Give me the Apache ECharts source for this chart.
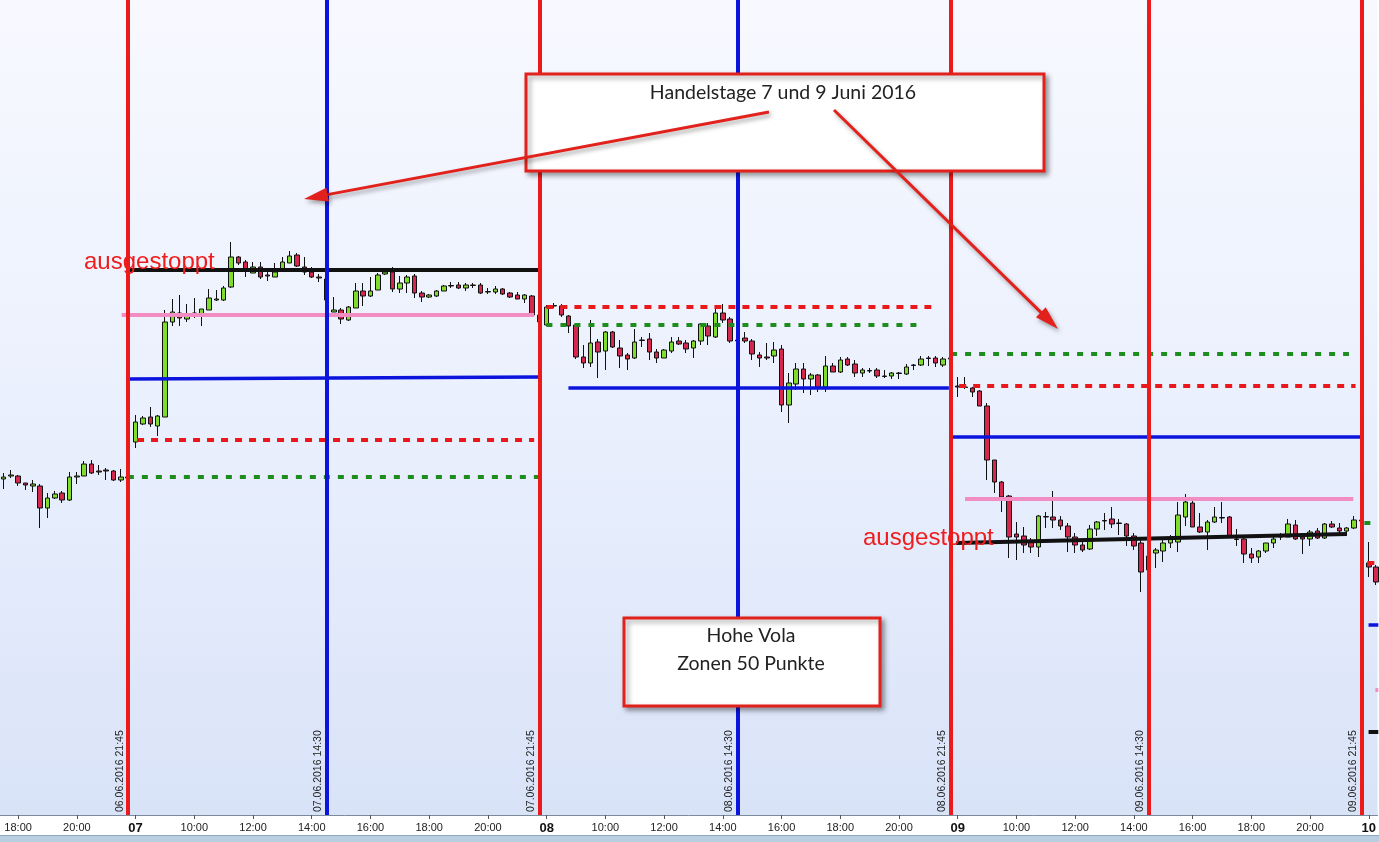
<!DOCTYPE html>
<html><head><meta charset="utf-8">
<script src="https://cdn.jsdelivr.net/npm/echarts@6/dist/echarts.min.js"></script>
<style>html,body{margin:0;padding:0;background:#fff;}#c{width:1379px;height:842px;}</style>
</head><body><div id="c"></div>
<script>
// 15-minute slots: slot 0 = 06.06 08:00, 56 slots per trading day (08:00-22:00)
const dayStartSlots = [38, 56, 112, 168, 224];
// [open, close, low, high]
const day06 = [
[10221,10223,10211,10227],[10224,10225,10222,10230],[10224,10217,10214,10225],[10217,10215,10210,10217],
[10214,10216,10208,10220],[10214,10192,10172,10216],[10192,10202,10182,10207],[10202,10206,10201,10209],
[10207,10200,10197,10209],[10200,10223,10199,10228],[10223,10224,10216,10228],[10224,10236,10224,10239],
[10236,10227,10226,10240],[10229,10228,10225,10235],[10230,10229,10220,10232],[10229,10220,10219,10230],
[10220,10223,10218,10231],[10223,10222,10220,10226]];
const day07 = [
[10258,10278,10252,10285],[10276,10282,10275,10284],[10283,10276,10273,10293],[10274,10284,10264,10285],
[10283,10378,10283,10390],[10378,10388,10374,10401],[10387,10382,10374,10405],[10381,10386,10378,10396],
[10385,10387,10382,10402],[10385,10391,10374,10391],[10390,10402,10390,10411],[10400,10401,10399,10410],
[10400,10412,10399,10414],[10413,10443,10412,10458],[10443,10437,10435,10444],[10438,10431,10423,10440],
[10427,10433,10427,10438],[10433,10423,10421,10438],[10425,10424,10419,10429],[10423,10428,10423,10437],
[10430,10438,10430,10443],[10437,10444,10437,10449],[10445,10434,10433,10447],[10433,10428,10425,10443],
[10428,10423,10422,10433],[10423,10422,10418,10426],[10421,10400,10397,10423],[10388,10390,10388,10403],
[10390,10381,10376,10392],[10380,10393,10379,10394],[10392,10409,10392,10417],[10409,10404,10394,10417],
[10404,10409,10403,10423],[10410,10425,10410,10427],[10426,10428,10425,10431],[10428,10411,10408,10433],
[10411,10417,10407,10424],[10417,10423,10407,10425],[10424,10407,10402,10426],[10407,10403,10398,10409],
[10403,10405,10402,10406],[10404,10409,10403,10410],[10409,10414,10409,10415],[10414,10414.5,10412,10418],
[10415,10412,10411,10418],[10412,10415,10409,10417],[10415,10414.5,10412,10417],[10415,10407,10406,10417],
[10408,10408.5,10406,10412],[10408,10411,10406,10414],[10411,10406,10405,10412],[10407,10403,10402,10408],
[10405,10401,10401,10408],[10401,10405,10397,10406],[10404,10385,10384,10405],[10385,10378,10374,10387]];
const day08 = [
[10375,10393,10374,10395],[10394,10394.5,10392,10397],[10394,10385,10383,10396],[10384,10374,10367,10385],
[10375,10343,10341,10377],[10343,10337,10332,10355],[10337,10357,10333,10380],[10358,10348,10322,10361],
[10349,10368,10330,10369],[10368,10353,10352,10369],[10352,10344,10332,10360],[10345,10341,10330,10347],
[10342,10358,10341,10371],[10360,10359.5,10353,10363],[10361,10348,10340,10367],[10348,10342,10337,10351],
[10342,10350,10342,10351],[10349,10358,10347,10363],[10359,10356,10355,10363],[10357,10351,10347,10360],
[10352,10359,10342,10360],[10359,10376,10355,10377],[10374,10364,10355,10377],[10363,10387,10362,10393],
[10387,10380,10377,10396],[10381,10359,10357,10383],[10359,10360,10358,10362],[10362,10359,10357,10368],
[10359,10346,10340,10361],[10345,10342,10333,10348],[10343,10342,10340,10357],[10344,10350,10337,10358],
[10351,10295,10288,10355],[10295,10317,10277,10327],[10316,10331,10310,10337],[10331,10321,10307,10337],
[10321,10325,10305,10327],[10325,10313,10308,10326],[10313,10334,10308,10344],[10334,10328,10328,10337],
[10328,10340,10327,10343],[10341,10335,10334,10343],[10336,10327,10323,10340],[10327,10330,10323,10332],
[10329,10329.5,10327,10332],[10330,10324,10322,10332],[10324,10323.5,10322,10330],[10324,10327,10321,10328],
[10326.5,10327,10321,10328],[10326,10333,10325,10336],[10335,10334.5,10330,10336],[10335,10341,10334,10344],
[10342,10341.5,10334,10344],[10342,10337,10333,10344],[10335,10341,10333,10343],[10341,10342,10339,10347]];
const day09 = [
[10314,10313,10303,10323],[10313,10312.5,10311,10323],[10312,10308,10303,10313],[10309,10294,10294,10310],
[10294,10240,10220,10297],[10240,10218,10207,10240],[10218,10203,10188,10219],[10204,10163,10142,10205],
[10166,10163,10140,10178],[10164,10155,10147,10173],[10158,10153,10147,10162],[10153,10184,10143,10185],
[10183,10183.5,10172,10188],[10183,10180,10172,10209],[10180,10174,10170,10184],[10174,10163,10148,10177],
[10163,10155,10147,10167],[10155,10150,10148,10158],[10151,10171,10150,10175],[10171,10178,10164,10179],
[10179,10179.5,10170,10187],[10181,10176,10172,10193],[10177,10176.5,10165,10181],[10176,10164,10154,10177],
[10164,10154,10150,10167],[10157,10128,10108,10161],[10130,10144,10127,10147],[10147,10150,10132,10152],
[10149,10157,10138,10160],[10157,10161,10152,10165],[10158,10185,10148,10198],[10183,10198,10174,10206],
[10197,10173,10173,10199],[10173,10168,10167,10187],[10168,10178,10150,10180],[10178,10183,10177,10193],
[10182,10182.5,10177,10198],[10183,10163,10162,10184],[10161,10160.5,10154,10171],[10161,10146,10137,10162],
[10146,10142,10137,10152],[10143,10149,10137,10150],[10149,10157,10147,10157],[10157,10161,10152,10165],
[10163,10163.5,10160,10167],[10163,10176,10163,10181],[10175,10161,10160,10180],[10163,10161,10146,10167],
[10161,10168,10154,10170],[10169,10162,10161,10172],[10162,10176,10161,10177],[10176,10173,10172,10179],
[10172,10169,10167,10177],[10169,10172,10164,10173],[10172,10180,10171,10184],[10180,10179,10177,10182]];
const day10 = [[10137,10133,10123,10158],[10133,10118,10115,10135]];

// level lines: [fromSlot, fromPrice, toSlot, toPrice]
const blackLevels = [[55.2,10430,111.0,10430],[167.8,10157,221.0,10166],[223.97,9968,225.3,9968]];
const pinkLevels  = [[54.1,10385,110.3,10385],[169.0,10201,221.9,10201],[224.9,10010,225.3,10010]];
const blueLevels  = [[54.95,10321,111.0,10323],[114.97,10312,166.8,10312],[166.96,10263,222.9,10263],[223.97,10075,225.3,10075]];
const redLevels   = [[56.2,10260,110.3,10260],[111.97,10393,164.4,10393],[168.2,10314,222.2,10314],[223.8,10137,224.9,10137]];
const greenLevels = [[54.95,10223,111.0,10223],[111.97,10375,162.5,10375],[167.1,10346,221.3,10346],[223.4,10177,225.3,10177]];

// vertical markers
const vSlots  = [55, 82, 111, 138, 167, 194, 223];
const vLabels = ['06.06.2016 21:45','07.06.2016 14:30','07.06.2016 21:45','08.06.2016 14:30','08.06.2016 21:45','09.06.2016 14:30','09.06.2016 21:45'];
const vKinds  = ['close','mid','close','mid','close','close','close'];

// axis ticks
const tickSlots  = [40,48,56,64,72,80,88,96,104,112,120,128,136,144,152,160,168,176,184,192,200,208,216,224];
const tickLabels = ['18:00','20:00','07','10:00','12:00','14:00','16:00','18:00','20:00','08','10:00','12:00','14:00','16:00','18:00','20:00','09','10:00','12:00','14:00','16:00','18:00','20:00','10'];

const days = [day06, day07, day08, day09, day10];
const candles = [];
days.forEach((d, k) => d.forEach((c, i) => candles.push([dayStartSlots[k] + i, c[0], c[1], c[2], c[3]])));

const RED = '#ec1a1a', BLUE = '#0a14dc', BLACK = '#111111', PINK = '#f28dc3', GREEN = '#1f8c1f';
const series = [{
  type: 'candlestick', data: candles, encode: {x: 0, y: [1, 2, 3, 4]},
  barWidth: 5, z: 2, silent: true,
  itemStyle: {color: '#80dc2c', color0: '#d6284f', borderColor: '#111', borderColor0: '#111', borderWidth: 1}
}];
function addLevels(list, color, width, type) {
  list.forEach(l => series.push({
    type: 'line', data: [[l[0], l[1]], [l[2], l[3]]], showSymbol: false, symbol: 'none', silent: true, z: 3,
    lineStyle: {color: color, width: width, type: type, cap: 'butt'}
  }));
}
addLevels(blackLevels, BLACK, 4, 'solid');
addLevels(pinkLevels, PINK, 4, 'solid');
addLevels(blueLevels, BLUE, 3.5, 'solid');
addLevels(redLevels, '#e8181c', 4, [7, 7]);
addLevels(greenLevels, GREEN, 4, [6, 8]);
series.push({
  type: 'line', data: [], z: 4, silent: true,
  markLine: {
    silent: true, symbol: ['none', 'none'], animation: false,
    data: vSlots.map((s, i) => ({
      xAxis: s,
      lineStyle: {color: vKinds[i] === 'mid' ? BLUE : RED, width: 4, type: 'solid'},
      label: {show: true, formatter: vLabels[i], position: 'insideStartTop', distance: 3,
        color: '#222', fontSize: 10.5, fontFamily: 'Liberation Sans'}
    }))
  }
});

const FONT_BOX = 'Lato, "Open Sans", sans-serif';
function arrow(x1, y1, x2, y2) {
  const dx = x2 - x1, dy = y2 - y1, L = Math.hypot(dx, dy), ux = dx / L, uy = dy / L;
  const hl = 24, hw = 7;
  const bx = x2 - ux * hl, by = y2 - uy * hl;
  const sh = {shadowBlur: 4, shadowOffsetX: 2, shadowOffsetY: 3, shadowColor: 'rgba(0,0,0,0.35)'};
  return [
    {type: 'line', z: 100, shape: {x1: x1, y1: y1, x2: bx + ux * 3, y2: by + uy * 3}, style: Object.assign({stroke: '#e3211c', lineWidth: 3}, sh)},
    {type: 'polygon', z: 100, shape: {points: [[x2, y2], [bx - uy * hw, by + ux * hw], [bx + uy * hw, by - ux * hw]]}, style: Object.assign({fill: '#e3211c'}, sh)}
  ];
}
function box(x, y, w, h) {
  return {type: 'rect', z: 99, shape: {x: x, y: y, width: w, height: h},
    style: {fill: '#ffffff', stroke: '#e3211c', lineWidth: 3, shadowBlur: 5, shadowOffsetX: 3, shadowOffsetY: 3, shadowColor: 'rgba(0,0,0,0.35)'}};
}
function txt(x, y, s, font, color, align) {
  return {type: 'text', z: 101, style: {x: x, y: y, text: s, font: font, fill: color, align: align || 'center', verticalAlign: 'middle'}};
}

const graphics = [
  {type: 'rect', z: 0, shape: {x: 0, y: 835, width: 1379, height: 7}, style: {fill: '#b9cee0'}},
  {type: 'line', z: 0, shape: {x1: 0, y1: 835.5, x2: 1379, y2: 835.5}, style: {stroke: '#8ea8bf', lineWidth: 1}},
  box(526, 74, 518, 97),
  txt(783, 93, 'Handelstage 7 und 9 Juni 2016', '19.5px ' + FONT_BOX, '#222'),
  box(624, 618, 256, 88),
  txt(751, 636, 'Hohe Vola', '19.5px ' + FONT_BOX, '#222'),
  txt(751, 664, 'Zonen 50 Punkte', '19.5px ' + FONT_BOX, '#222'),
  txt(84, 262, 'ausgestoppt', '24px "Liberation Sans", Arial, sans-serif', '#ee1c1c', 'left'),
  txt(863, 538, 'ausgestoppt', '24px "Liberation Sans", Arial, sans-serif', '#ee1c1c', 'left')
].concat(arrow(769, 112, 304, 199), arrow(834, 110, 1058, 329));

const chart = echarts.init(document.getElementById('c'), null, {renderer: 'canvas'});
chart.setOption({
  animation: false,
  backgroundColor: '#ffffff',
  grid: {left: 0, right: 0, top: 0, bottom: 27, show: true, borderWidth: 0,
    backgroundColor: new echarts.graphic.LinearGradient(0, 0, 0, 1, [
      {offset: 0, color: '#f8f9ff'}, {offset: 0.5, color: '#eaf0fd'}, {offset: 1, color: '#d9e3f8'}])},
  xAxis: {
    type: 'value', min: 37.53, max: 225.2,
    axisLine: {show: true, onZero: false, lineStyle: {color: '#7b8b9b', width: 1}},
    axisTick: {show: true, customValues: tickSlots, length: 4, lineStyle: {color: '#555'}},
    axisLabel: {
      customValues: tickSlots, margin: 7, fontSize: 11, color: '#222',
      fontFamily: '"Liberation Sans Narrow", "Liberation Sans", sans-serif',
      formatter: v => {
        const i = tickSlots.indexOf(Math.round(v));
        const t = i >= 0 ? tickLabels[i] : '';
        return t.length === 2 ? '{d|' + t + '}' : t;
      },
      rich: {d: {fontWeight: 'bold', fontSize: 13, color: '#111', fontFamily: '"Liberation Sans Narrow", "Liberation Sans", sans-serif'}}
    },
    splitLine: {show: false}
  },
  yAxis: {type: 'value', min: 9885, max: 10700, show: false, splitLine: {show: false}},
  series: series,
  graphic: graphics
});
</script></body></html>
